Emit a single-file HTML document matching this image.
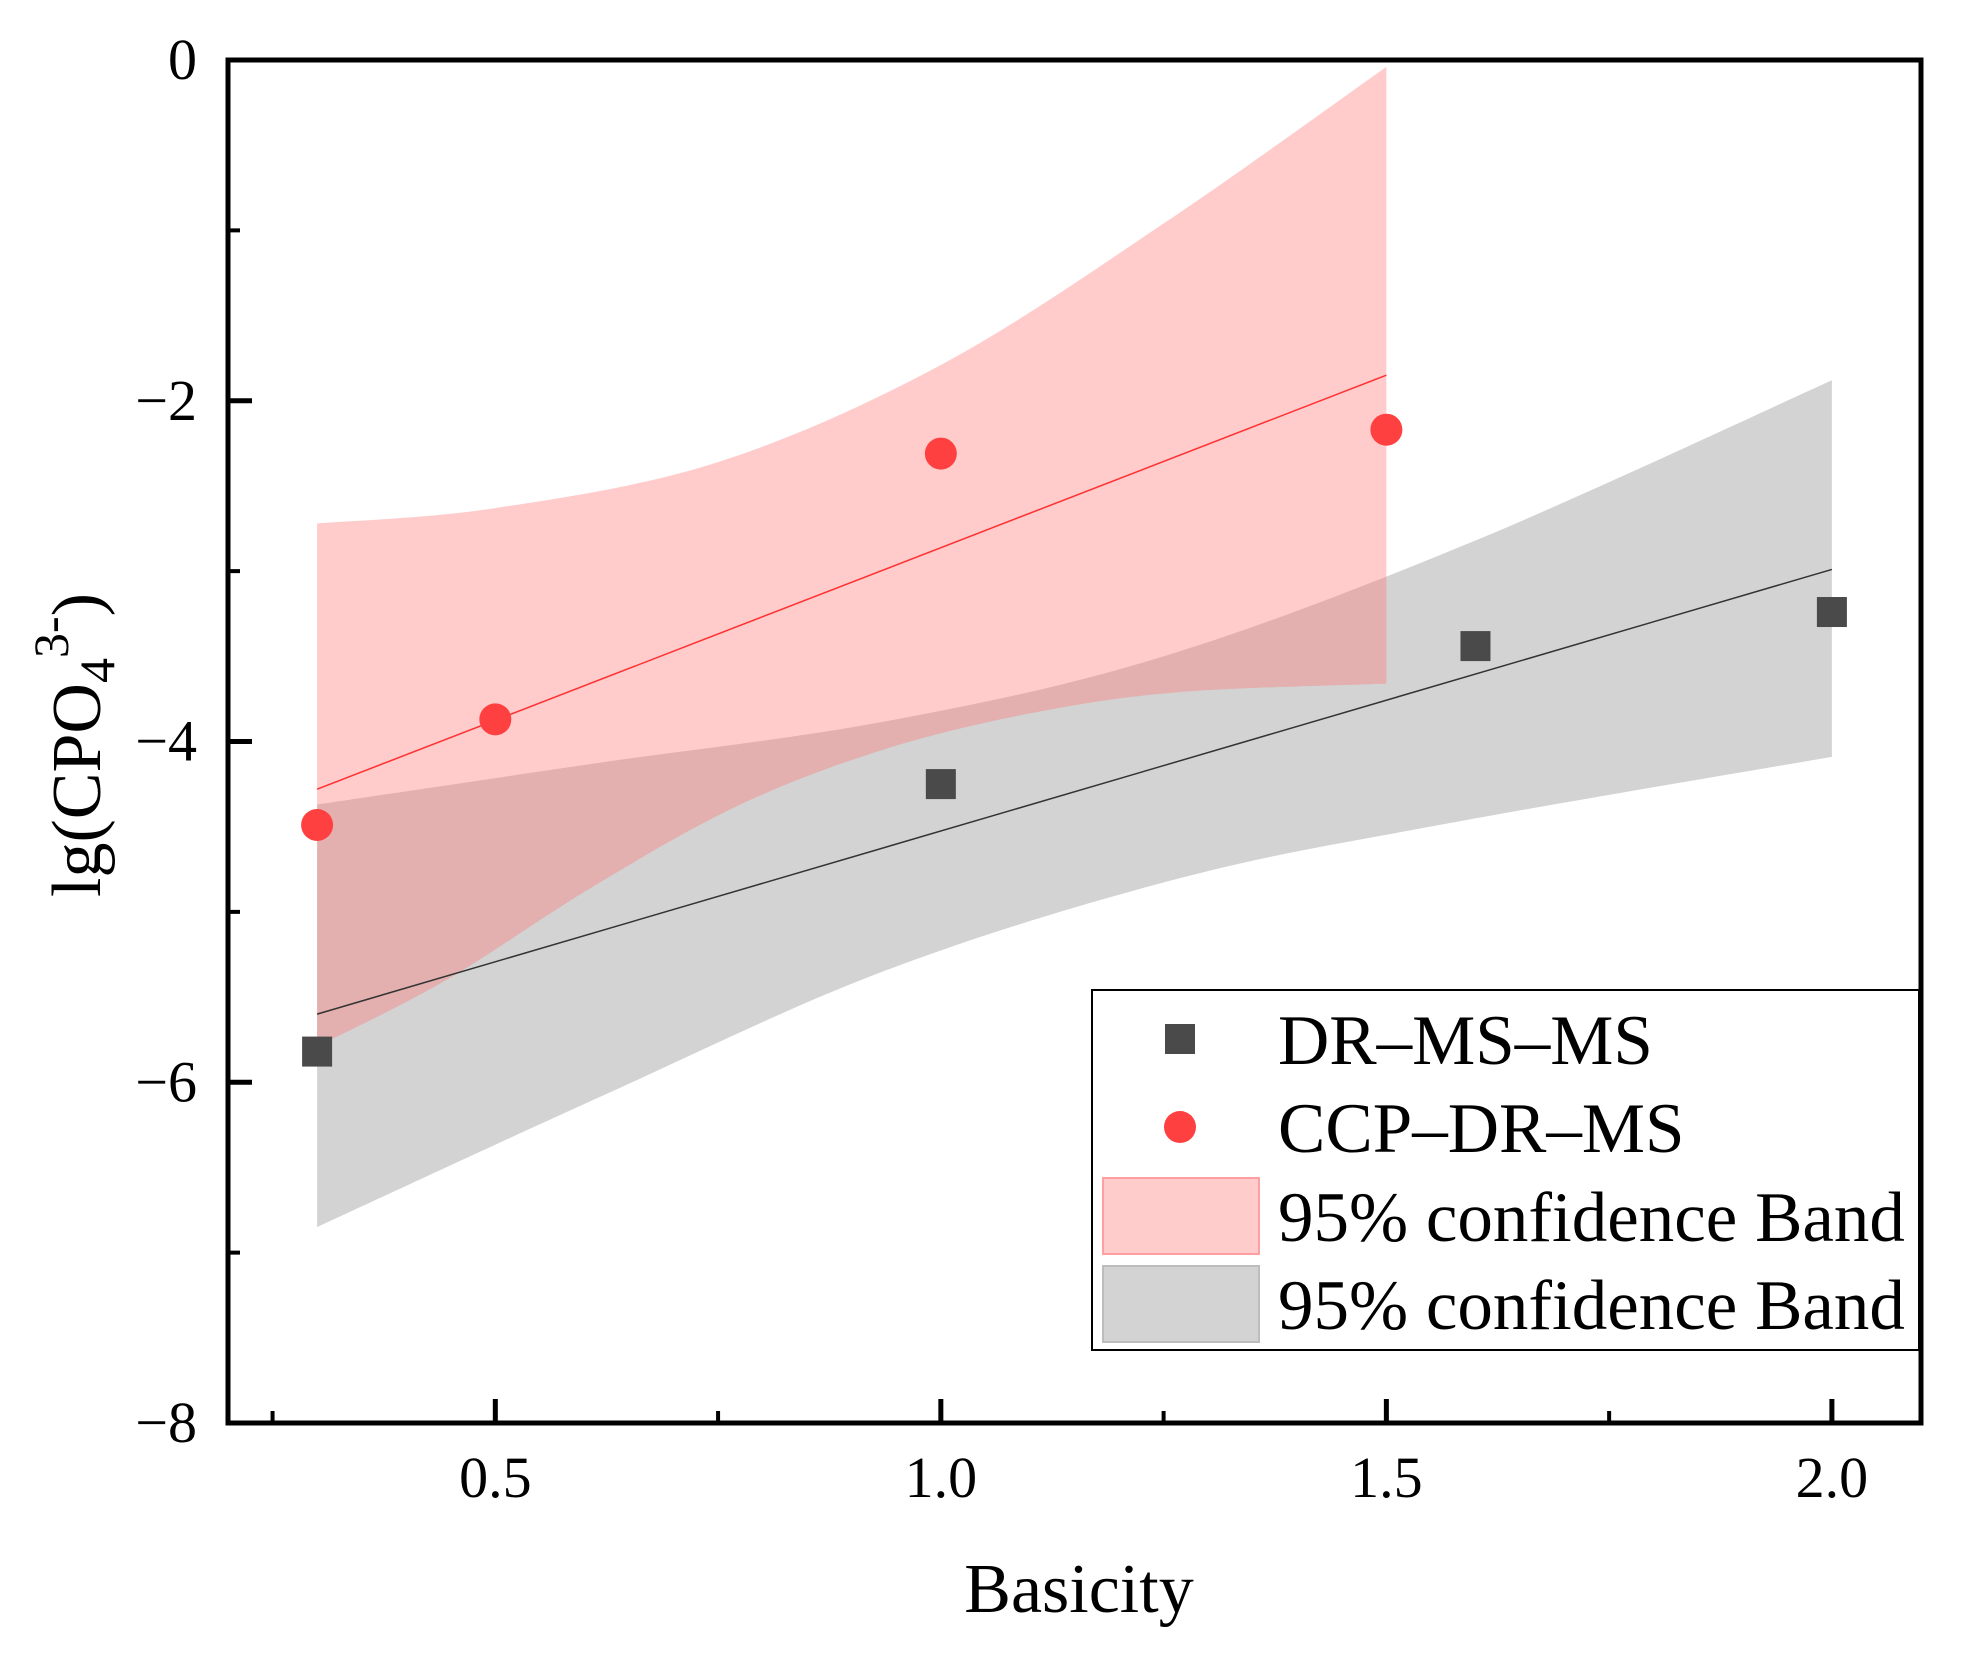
<!DOCTYPE html>
<html><head><meta charset="utf-8"><style>
html,body{margin:0;padding:0;background:#fff;}
svg{display:block;font-family:"Liberation Serif",serif;}
</style></head><body>
<svg id="chart" width="1968" height="1655" viewBox="0 0 1968 1655">
<g id="bands"></g>
<g id="lines"></g>
<g id="points"></g>
<g id="axes"></g>
<g id="legend"></g>
</svg>
<script>
const xTicks=[0.5,1.0,1.5,2.0];
const xTickLabels=["0.5","1.0","1.5","2.0"];
const xMinor=[0.25,0.75,1.25,1.75];
const yTicks=[0,-2,-4,-6,-8];
const yTickLabels=["0","\u22122","\u22124","\u22126","\u22128"];
const yMinor=[-1,-3,-5,-7];
const drX=[0.3,1.0,1.6,2.0];
const drY=[-5.82,-4.25,-3.44,-3.24];
const ccpX=[0.3,0.5,1.0,1.5];
const ccpY=[-4.49,-3.87,-2.31,-2.17];
const drFitX=[0.3,2.0];
const drFitY=[-5.6,-2.99];
const ccpFitX=[0.3,1.5];
const ccpFitY=[-4.28,-1.85];
const ccpUpX=[0.3,0.5,0.75,1.0,1.25,1.5];
const ccpUpY=[-2.72,-2.63,-2.36,-1.79,-0.96,-0.04];
const ccpLoX=[0.3,0.445,0.61,0.775,0.94,1.105,1.268,1.5];
const ccpLoY=[-5.79,-5.4,-4.85,-4.37,-4.04,-3.83,-3.71,-3.66];
const drUpX=[0.3,0.61,0.94,1.25,1.6,2.0];
const drUpY=[-4.37,-4.13,-3.88,-3.5,-2.82,-1.88];
const drLoX=[0.3,0.62,0.94,1.27,1.57,2.0];
const drLoY=[-6.85,-6.08,-5.34,-4.8,-4.48,-4.09];

const L=228,R=1921,T=60,B=1423;
const xMin=0.2,xMax=2.1,yMin=-8,yMax=0;
const sx=v=>L+(v-xMin)/(xMax-xMin)*(R-L);
const sy=v=>B-(v-yMin)/(yMax-yMin)*(B-T);
const NS="http://www.w3.org/2000/svg";
function mk(tag,attrs,parent){const e=document.createElementNS(NS,tag);for(const k in attrs)e.setAttribute(k,attrs[k]);parent.appendChild(e);return e;}
const gB=document.getElementById('bands'),gL=document.getElementById('lines'),gP=document.getElementById('points'),gA=document.getElementById('axes'),gLg=document.getElementById('legend');

function smooth(pts,start){
  let d=(start?'M':'L')+pts[0][0]+','+pts[0][1];
  for(let i=0;i<pts.length-1;i++){
    const p0=pts[i-1]||pts[i],p1=pts[i],p2=pts[i+1],p3=pts[i+2]||pts[i+1];
    const c1=[p1[0]+(p2[0]-p0[0])/6,p1[1]+(p2[1]-p0[1])/6];
    const c2=[p2[0]-(p3[0]-p1[0])/6,p2[1]-(p3[1]-p1[1])/6];
    d+=' C'+c1[0]+','+c1[1]+' '+c2[0]+','+c2[1]+' '+p2[0]+','+p2[1];
  }
  return d;
}
function band(ux,uy,lx,ly,fill,name){
  const up=ux.map((x,i)=>[sx(x),sy(uy[i])]);
  const lo=lx.map((x,i)=>[sx(x),sy(ly[i])]).reverse();
  const d=smooth(up,true)+' '+smooth(lo,false)+' Z';
  const p=mk('path',{d:d,fill:fill},gB);
  
  
}
band(drUpX,drUpY,drLoX,drLoY,'rgb(211,211,211)','dr-confidence-band');
band(ccpUpX,ccpUpY,ccpLoX,ccpLoY,'rgba(255,110,110,0.36)','ccp-confidence-band');

const l1=mk('line',{x1:sx(drFitX[0]),y1:sy(drFitY[0]),x2:sx(drFitX[1]),y2:sy(drFitY[1]),stroke:'#333',"stroke-width":1.5},gL);


const l2=mk('line',{x1:sx(ccpFitX[0]),y1:sy(ccpFitY[0]),x2:sx(ccpFitX[1]),y2:sy(ccpFitY[1]),stroke:'#ff3030',"stroke-width":1.5},gL);



drX.forEach((x,i)=>{
  const r=mk('rect',{x:sx(x)-15,y:sy(drY[i])-15,width:30,height:30,fill:'#4a4a4a'},gP);
  
  
});
ccpX.forEach((x,i)=>{
  const c=mk('circle',{cx:sx(x),cy:sy(ccpY[i]),r:16,fill:'#ff4040'},gP);
  
  
});

const frame=mk('rect',{x:L,y:T,width:R-L,height:B-T,fill:'none',stroke:'#000',"stroke-width":5},gA);


xTicks.forEach((v,i)=>{
  mk('line',{x1:sx(v),y1:B,x2:sx(v),y2:B-24,stroke:'#000',"stroke-width":5},gA);
  const t=mk('text',{x:sx(v),y:1497,"font-size":58,"text-anchor":"middle"},gA);
  t.textContent=xTickLabels[i];
  
  
});
xMinor.forEach(v=>mk('line',{x1:sx(v),y1:B,x2:sx(v),y2:B-12,stroke:'#000',"stroke-width":4},gA));
yTicks.forEach((v,i)=>{
  mk('line',{x1:L,y1:sy(v),x2:L+24,y2:sy(v),stroke:'#000',"stroke-width":5},gA);
  const t=mk('text',{x:197,y:sy(v)+19,"font-size":58,"text-anchor":"end"},gA);
  t.textContent=yTickLabels[i];
  
  
});
yMinor.forEach(v=>mk('line',{x1:L,y1:sy(v),x2:L+12,y2:sy(v),stroke:'#000',"stroke-width":4},gA));

const xt=mk('text',{x:1079,y:1612,"font-size":70,"text-anchor":"middle"},gA);
xt.textContent='Basicity';


const yt=mk('text',{x:0,y:0,"font-size":70,"text-anchor":"middle",transform:"translate(100,745) rotate(-90)"},gA);
yt.innerHTML='lg(CPO<tspan font-size="50" dy="14">4</tspan><tspan font-size="50" dy="-46">3-</tspan><tspan dy="32">)</tspan>';



const lb=mk('rect',{x:1092,y:990,width:827,height:360,fill:'#fff',stroke:'#000',"stroke-width":2},gLg);


const entries=[
 ['DR\u2013MS\u2013MS',1039,'sq'],
 ['CCP\u2013DR\u2013MS',1127,'ci'],
 ['95% confidence Band',1216,'pink'],
 ['95% confidence Band',1304,'gray']];
entries.forEach(e=>{
  const g=mk('g',{},gLg);
  
  
  if(e[2]==='sq')mk('rect',{x:1165,y:e[1]-15,width:30,height:30,fill:'#4a4a4a'},g);
  else if(e[2]==='ci')mk('circle',{cx:1180,cy:e[1],r:16,fill:'#ff4040'},g);
  else if(e[2]==='pink')mk('rect',{x:1103,y:e[1]-38,width:156,height:76,fill:'#ffcccc',stroke:'#ff9f9f',"stroke-width":2},g);
  else mk('rect',{x:1103,y:e[1]-38,width:156,height:76,fill:'#d3d3d3',stroke:'#bdbdbd',"stroke-width":2},g);
  const t=mk('text',{x:1278,y:e[1]+25,"font-size":71},g);
  t.textContent=e[0];
});
</script>
</body></html>
